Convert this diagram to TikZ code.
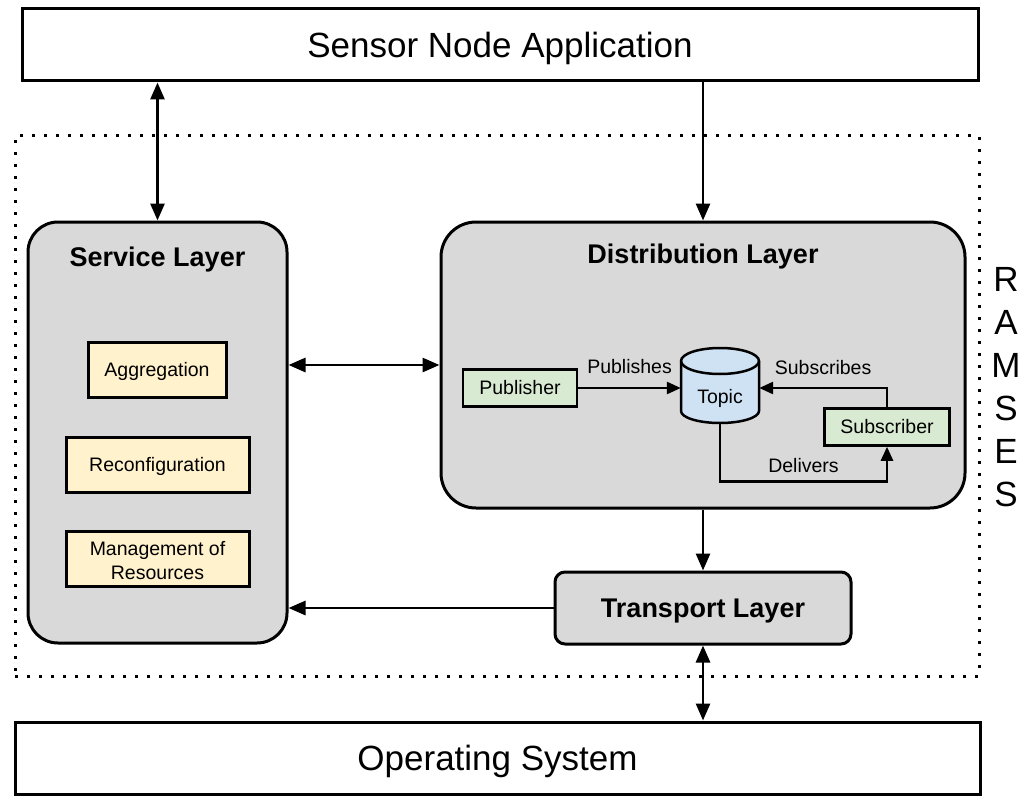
\documentclass[tikz,border=0pt]{standalone}
\usepackage{fontspec}
\setmainfont{Liberation Sans}
\usetikzlibrary{arrows.meta}
\definecolor{layergray}{HTML}{D9D9D9}
\definecolor{taskyellow}{HTML}{FFF2CC}
\definecolor{pubgreen}{HTML}{D9EAD3}
\definecolor{topicblue}{HTML}{CFE2F3}
\begin{document}
\begin{tikzpicture}[x=1pt, y=-1pt, >={Triangle[length=17pt, width=14pt]}, font=\fontsize{19.5}{24}\selectfont]
	\tikzset{bigbox/.style={draw, line width=3pt, fill=white, minimum width=#1, minimum height=72, inner sep=0pt, text depth=0pt, font=\fontsize{35}{42}\selectfont},
		layerbox/.style={draw, line width=3pt, fill=layergray, inner sep=0pt},
		layertitle/.style={anchor=base, inner sep=0pt, font=\bfseries\fontsize{27}{32}\selectfont},
		taskbox/.style={draw, line width=3pt, fill=taskyellow, inner sep=0pt, minimum height=55, align=center},
		pubsubbox/.style={draw, line width=2.5pt, fill=pubgreen, inner sep=0pt, minimum height=37},
		flow/.style={line width=2.8pt, ->},
		dflow/.style={line width=2.8pt, <->},
		pubflow/.style={line width=2.6pt, -{Triangle[length=14pt, width=12pt]}}}
	\useasboundingbox (0,0) rectangle (1024,805);
	\node[bigbox=956] (app) at (500,45) {Sensor Node Application};
	\node[draw, line width=3pt, dash pattern=on 3pt off 9pt, minimum width=964, minimum height=540] (frame) at (497,406) {};
	\node[font=\fontsize{35}{43}\selectfont, align=center, inner sep=0pt] (ramseslabel) at (1006,387.5) {R\\A\\M\\S\\E\\S};
	\node[layerbox, rounded corners=30pt, minimum width=259, minimum height=421] (service) at (157.5,432.5) {};
	\node[layertitle] (servicetitle) at ([yshift=-46pt]service.north) {Service Layer};
	\node[taskbox, text depth=0pt, minimum width=138] (agg) at (157,369.5) {Aggregation};
	\node[taskbox, text depth=0pt, minimum width=183] (reconf) at (157.5,464.5) {Reconfiguration};
	\node[taskbox, minimum width=183] (manage) at (157.5,559) {\strut Management of\\Resources};
	\node[layerbox, rounded corners=35pt, minimum width=524, minimum height=286] (dist) at (703,365) {};
	\node[layertitle] (disttitle) at ([yshift=-43pt]dist.north) {Distribution Layer};
	\node[pubsubbox, minimum width=114] (publisher) at (520,388) {Publisher};
	\draw[line width=2.5pt, fill=topicblue] (681,361) -- (681,411) arc[start angle=180, end angle=360, x radius=39pt, y radius=12pt] -- (759,361) arc[start angle=0, end angle=180, x radius=39pt, y radius=13pt] -- cycle;
	\draw[line width=2.5pt] (681,361) arc[start angle=180, end angle=360, x radius=39pt, y radius=13pt];
	\node[minimum width=78, minimum height=70, inner sep=0pt] (topic) at (720,388) {};
	\node[anchor=base] (topictext) at (720,403) {Topic};
	\node[pubsubbox, minimum width=125] (subscriber) at (887,427) {Subscriber};
	\node[layerbox, rounded corners=10pt, minimum width=296, minimum height=72, text depth=0pt, font=\bfseries\fontsize{27}{32}\selectfont] (transport) at (703,608) {Transport Layer};
	\node[bigbox=965] (os) at (497.5,758) {Operating System};
	\draw[dflow] (app.south -| service.north) -- (service.north);
	\draw[flow] (app.south -| dist.north) -- (dist.north);
	\draw[dflow] (service.east |- dist.west) -- (dist.west);
	\draw[flow] (dist.south) -- (transport.north);
	\draw[flow] (transport.west) -- (transport.west -| service.east);
	\draw[dflow] (transport.south) -- (transport.south |- os.north);
	\draw[pubflow] (publisher.east) -- node[above=10pt] (publabel) {Publishes} (publisher.east -| topic.west);
	\draw[pubflow] (subscriber.north) |- node[pos=0.75, above=9pt] (sublabel) {Subscribes} (topic.east);
	\draw[pubflow] (topic.south) -- ++(0,58) -| node[pos=0.25, above=4pt] (dellabel) {Delivers} (subscriber.south);
\end{tikzpicture}
\end{document}
